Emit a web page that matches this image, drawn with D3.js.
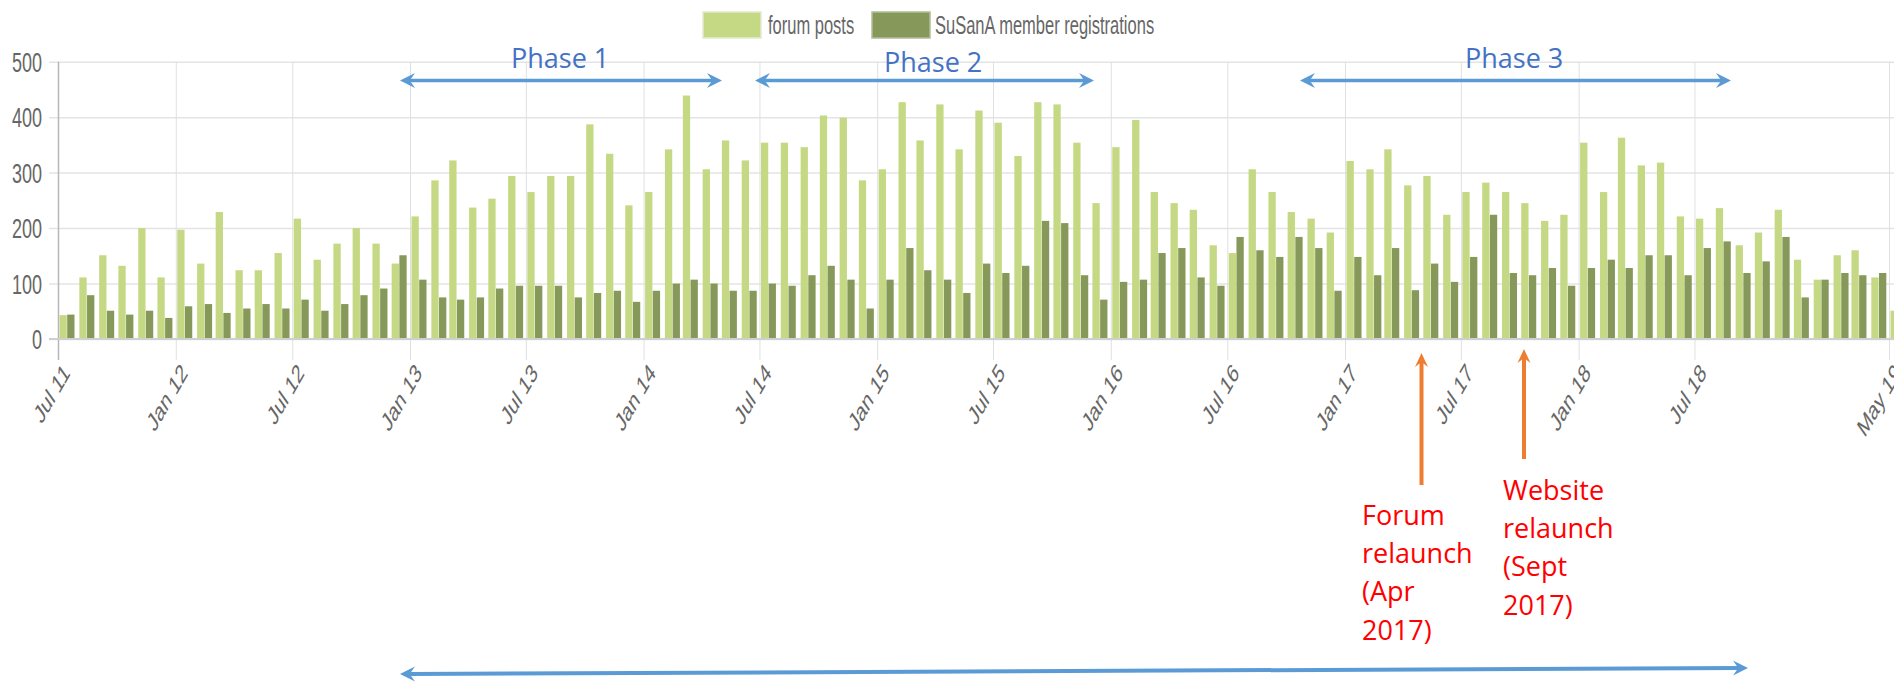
<!DOCTYPE html>
<html>
<head>
<meta charset="utf-8">
<script src="https://cdn.jsdelivr.net/npm/d3@7"></script>
<style>
	body { margin: 0; background: #fff; overflow: hidden; }
	text { font-family: 'Liberation Sans', Arial, sans-serif; }
	text.note { font-family: 'Open Sans', sans-serif; }
</style>
</head>
<body>
<div id="chart"></div>
<script>
'use strict';

// monthly data, Jul 2011 .. May 2019
var startMonth = new Date(2011, 6, 1);

var forumPosts = [
	43, 111, 151, 132, 200, 111,
	197, 136, 229, 124, 124, 155,
	217, 143, 172, 200, 172, 136,
	221, 286, 322, 237, 253, 294,
	265, 294, 294, 387, 334, 241,
	265, 342, 439, 306, 358, 322,
	354, 354, 346, 403, 399, 286,
	306, 427, 358, 423, 342, 412,
	390, 330, 427, 423, 354, 245,
	346, 395, 265, 245, 233, 169,
	155, 306, 265, 229, 217, 192,
	321, 306, 342, 277, 294, 224,
	265, 282, 265, 245, 213, 224,
	354, 265, 363, 313, 318, 221,
	217, 236, 169, 192, 233, 143,
	107, 151, 160, 111, 51
];

var registrations = [
	44, 79, 51, 44, 51, 38,
	59, 63, 47, 55, 63, 55,
	71, 51, 63, 79, 91, 151,
	107, 75, 71, 75, 91, 96,
	96, 96, 75, 83, 87, 67,
	87, 100, 107, 100, 87, 87,
	100, 96, 115, 132, 107, 55,
	107, 164, 124, 107, 83, 136,
	119, 132, 213, 209, 115, 71,
	103, 107, 155, 164, 111, 96,
	184, 160, 148, 184, 164, 87,
	148, 115, 164, 88, 136, 103,
	148, 224, 119, 115, 128, 96,
	128, 143, 128, 151, 151, 115,
	164, 176, 119, 140, 184, 75,
	107, 119, 115, 119, null
];

var tickMonths = ['2011-07', '2012-01', '2012-07', '2013-01', '2013-07', '2014-01', '2014-07',
	'2015-01', '2015-07', '2016-01', '2016-07', '2017-01', '2017-07', '2018-01', '2018-07', '2019-05'];
var yTicks = [0, 100, 200, 300, 400, 500];

var seriesNames = ['forum posts', 'SuSanA member registrations'];
var seriesColors = ['#c5d985', '#87995a'];

var width = 1894;
var height = 682;
var plot = {left: 58, right: 1889, top: 61.7, bottom: 339};

var parseMonth = d3.timeParse('%Y-%m');
var months = forumPosts.map(function(d, i){ return d3.timeMonth.offset(startMonth, i); });

var svg = d3.select('#chart').append('svg')
	.attr('width', width)
	.attr('height', height);

var x = d3.scaleTime()
	.domain([startMonth, months[months.length - 1]])
	.range([plot.left, plot.right]);

var y = d3.scaleLinear()
	.domain([0, 500])
	.range([plot.bottom, plot.top]);

// y axis + horizontal grid
var yAxis = svg.append('g')
	.attr('transform', 'translate(49,0)')
	.call(d3.axisLeft(y).tickValues(yTicks).tickSize(-(width - 49)).tickPadding(0));
yAxis.select('.domain').remove();
yAxis.selectAll('line').attr('stroke', '#e4e4e4').attr('stroke-width', 1.5);
yAxis.selectAll('text')
	.attr('x', null)
	.attr('dy', '0.34em')
	.attr('transform', 'translate(-7,0) scale(1,1.55)')
	.attr('fill', '#666')
	.style('font-size', '18px');

// x axis + vertical grid
var xAxis = svg.append('g')
	.attr('transform', 'translate(0,' + plot.bottom + ')')
	.call(d3.axisBottom(x).tickValues(tickMonths.map(parseMonth)).tickFormat(d3.timeFormat('%b %y')).tickSize(21).tickSizeOuter(0));
xAxis.select('.domain').remove();
xAxis.selectAll('line')
	.attr('y1', plot.top - plot.bottom)
	.attr('stroke', function(d, i){ return i === 0 ? '#b8b8b8' : '#e0e0e0'; })
	.attr('stroke-width', function(d, i){ return i === 0 ? 1.5 : 1; });
xAxis.selectAll('text')
	.attr('y', null)
	.attr('dy', '0.35em')
	.attr('text-anchor', 'end')
	.attr('transform', 'translate(8,29) scale(1,1.55) rotate(-48)')
	.attr('fill', '#666')
	.style('font-size', '17px');

// bars
var bars = svg.append('g');
bars.selectAll('.posts')
	.data(forumPosts)
	.enter().append('rect')
		.attr('class', 'posts')
		.attr('x', function(d, i){ return x(months[i]) + 1.5; })
		.attr('y', function(d){ return y(d); })
		.attr('width', 7.3)
		.attr('height', function(d){ return y(0) - y(d); })
		.attr('fill', seriesColors[0]);

bars.selectAll('.regs')
	.data(registrations.map(function(d, i){ return {v: d, m: months[i]}; }).filter(function(d){ return d.v !== null; }))
	.enter().append('rect')
		.attr('class', 'regs')
		.attr('x', function(d){ return x(d.m) + 9.2; })
		.attr('y', function(d){ return y(d.v); })
		.attr('width', 7.3)
		.attr('height', function(d){ return y(0) - y(d.v); })
		.attr('fill', seriesColors[1]);

// zero line over the bars
svg.append('line')
	.attr('x1', 49).attr('x2', width)
	.attr('y1', y(0)).attr('y2', y(0))
	.attr('stroke', '#cfcfcf')
	.attr('stroke-width', 2);

// legend
var legendX = [703, 872];
var legendTextX = [768, 935];
var legend = svg.append('g');
seriesNames.forEach(function(name, i){
	legend.append('rect')
		.attr('x', legendX[i]).attr('y', 12)
		.attr('width', 58).attr('height', 26)
		.attr('fill', seriesColors[i])
		.attr('stroke', i === 0 ? '#e2ead0' : '#b3bd98')
		.attr('stroke-width', 1.5);
	legend.append('text')
		.attr('transform', 'translate(' + legendTextX[i] + ',25) scale(1,1.55)')
		.attr('dy', '0.35em')
		.attr('fill', '#666')
		.style('font-size', '16.5px')
		.text(name);
});

// annotations
var blue = '#5b9bd5';
var orange = '#ed7d31';
var notes = svg.append('g');

function arrowHead(tx, ty, ang, color, len, hw){
	notes.append('path')
		.attr('d', 'M0,0L' + (-len) + ',' + (-hw) + 'L' + (-len * 0.65) + ',0L' + (-len) + ',' + hw + 'Z')
		.attr('transform', 'translate(' + tx + ',' + ty + ') rotate(' + (ang * 180 / Math.PI) + ')')
		.attr('fill', color);
}

function arrow(x1, y1, x2, y2, color, w, both, len, hw){
	var a = Math.atan2(y2 - y1, x2 - x1);
	var cut = len * 0.6;
	notes.append('line')
		.attr('x1', both ? x1 + Math.cos(a) * cut : x1)
		.attr('y1', both ? y1 + Math.sin(a) * cut : y1)
		.attr('x2', x2 - Math.cos(a) * cut)
		.attr('y2', y2 - Math.sin(a) * cut)
		.attr('stroke', color)
		.attr('stroke-width', w);
	arrowHead(x2, y2, a, color, len, hw);
	if (both) arrowHead(x1, y1, a + Math.PI, color, len, hw);
}

var phases = [
	{label: 'Phase 1', x1: 400, x2: 722, tx: 511, ty: 68},
	{label: 'Phase 2', x1: 755, x2: 1094, tx: 884, ty: 72},
	{label: 'Phase 3', x1: 1300, x2: 1731, tx: 1465, ty: 68}
];
phases.forEach(function(p){
	arrow(p.x1, 80.5, p.x2, 80.5, blue, 3.3, true, 15, 7.5);
	notes.append('text')
		.attr('class', 'note')
		.attr('x', p.tx).attr('y', p.ty)
		.attr('fill', '#4472c4')
		.style('font-size', '27px')
		.text(p.label);
});

// the long arrow at the bottom
arrow(400, 674, 1748, 668, blue, 4, true, 15, 7.5);

// relaunch markers
var events = [
	{x: 1421.5, top: 353, bottom: 485, tx: 1362, ty: 525, lines: ['Forum', 'relaunch', '(Apr', '2017)']},
	{x: 1524, top: 349, bottom: 459, tx: 1503, ty: 500, lines: ['Website', 'relaunch', '(Sept', '2017)']}
];
events.forEach(function(e){
	arrow(e.x, e.bottom, e.x, e.top, orange, 4, false, 14, 6.5);
	var t = notes.append('text')
		.attr('class', 'note')
		.attr('x', e.tx).attr('y', e.ty)
		.attr('fill', '#ff0000')
		.style('font-size', '27px');
	e.lines.forEach(function(l, i){
		t.append('tspan')
			.attr('x', e.tx)
			.attr('dy', i === 0 ? 0 : 38.2)
			.text(l);
	});
});
</script>
</body>
</html>
